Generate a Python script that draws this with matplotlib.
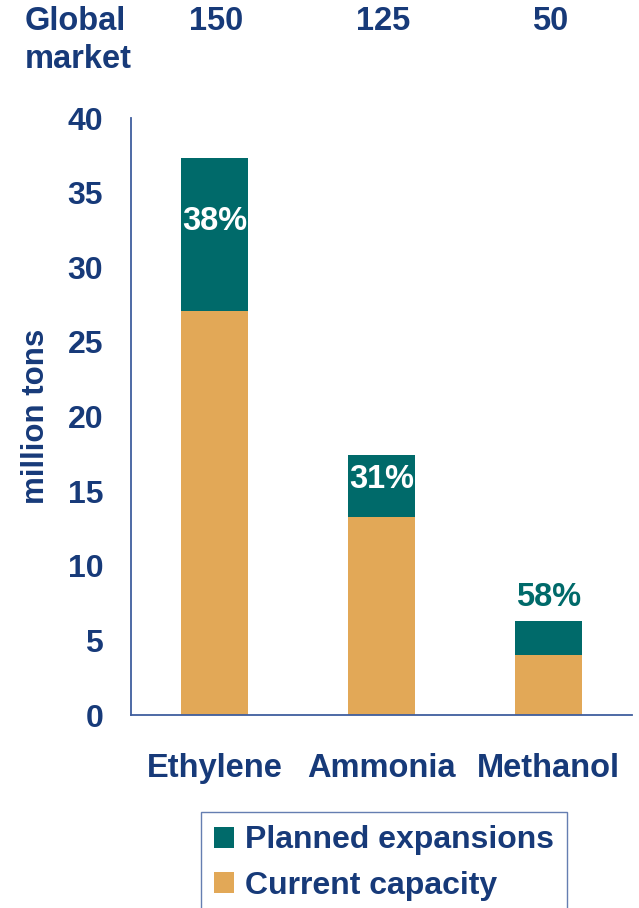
import matplotlib
matplotlib.use("Agg")
import matplotlib.pyplot as plt
import numpy as np

plt.rcParams['font.family'] = ['Liberation Sans', 'DejaVu Sans']
plt.rcParams['font.weight'] = 'bold'

# Data
categories = ["Ethylene", "Ammonia", "Methanol"]
current_capacity = [27.1, 13.3, 4.0]
planned_expansions = [10.2, 4.1, 2.3]
pct_labels = ["38%", "31%", "58%"]
global_market = ["150", "125", "50"]
yticks = [0, 5, 10, 15, 20, 25, 30, 35, 40]

NAVY = "#173A79"
TEAL = "#006A6A"
ORANGE = "#E2A857"
SPINE = "#3F5E9E"
FS = 23.5

fig = plt.figure(figsize=(6.39, 9.08), dpi=100)
ax = fig.add_axes([0.205, 0.2125, 0.784, 0.6575])

x = np.arange(len(categories))
width = 0.4
b1 = ax.bar(x, current_capacity, width, color=ORANGE, label="Current capacity")
b2 = ax.bar(x, planned_expansions, width, bottom=current_capacity, color=TEAL,
            label="Planned expansions")

ax.set_xlim(-0.5, 2.5)
ax.set_ylim(0, 40)
ax.set_yticks(yticks)
ax.set_yticklabels([str(t) for t in yticks], fontsize=23, color=NAVY, fontweight='bold')
ax.set_xticks(x)
ax.set_xticklabels(categories, fontsize=FS, color=NAVY, fontweight='bold')
ax.tick_params(axis='both', length=0)
ax.tick_params(axis='y', pad=20)
ax.tick_params(axis='x', pad=27)

for s in ['top', 'right']:
    ax.spines[s].set_visible(False)
for s in ['left', 'bottom']:
    ax.spines[s].set_color(SPINE)
    ax.spines[s].set_linewidth(1.3)

ax.set_ylabel("million tons", fontsize=22.5, color=NAVY, fontweight='bold', labelpad=12)

# Percentage labels: inside the planned segment for tall bars, above it for short ones
label_offsets = [-4.2, -1.6, 1.6]
for i, (c, p, lab) in enumerate(zip(current_capacity, planned_expansions, pct_labels)):
    total = c + p
    inside = p > 3
    ax.text(i, total + label_offsets[i], lab, ha='center', va='center',
            fontsize=FS, color='white' if inside else TEAL, fontweight='bold')

# Global market header row
fig.text(25 / 639, 1 - 22 / 908, "Global", fontsize=FS, color=NAVY, fontweight='bold',
         ha='left', va='center')
fig.text(25 / 639, 1 - 60 / 908, "market", fontsize=FS, color=NAVY, fontweight='bold',
         ha='left', va='center')
for i, g in enumerate(global_market):
    xd, _ = ax.transData.transform((i, 0))
    fig.text((xd + 2) / 639, 1 - 22 / 908, g, fontsize=FS, color=NAVY, fontweight='bold',
             ha='center', va='center')

handles = [b2, b1]
labels = ["Planned expansions", "Current capacity"]
leg = fig.legend(handles, labels, loc='upper left', bbox_to_anchor=(201 / 639, 1 - 812 / 908),
                 fontsize=23, frameon=True, fancybox=False, handlelength=0.62,
                 handleheight=0.62, handletextpad=0.33, labelspacing=0.48,
                 borderpad=0.42, borderaxespad=0)
leg.get_frame().set_edgecolor(SPINE)
leg.get_frame().set_linewidth(1.0)
for t in leg.get_texts():
    t.set_color(NAVY)
    t.set_fontweight('bold')

fig.savefig("out.png", dpi=100)
